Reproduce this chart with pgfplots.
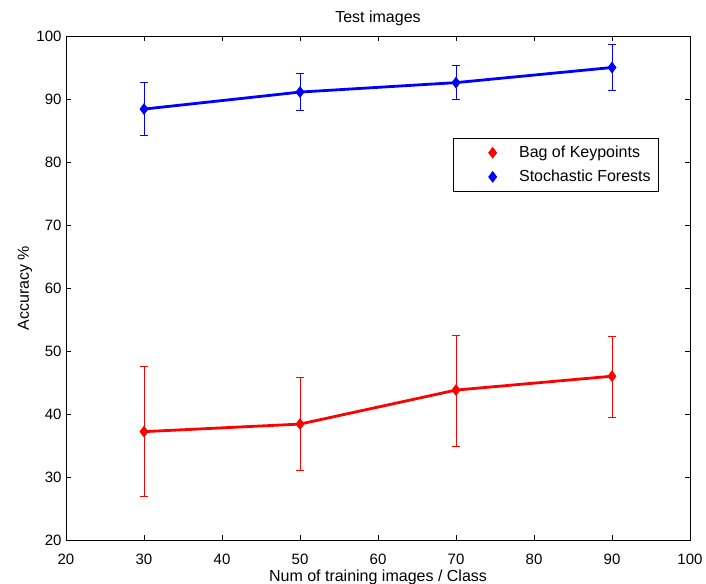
\documentclass[border=0pt]{standalone}
\usepackage{pgfplots}
\pgfplotsset{compat=1.18}
\usepackage{fontspec}
\setmainfont{Liberation Sans}
\begin{document}
\begin{tikzpicture}[x=1pt,y=1pt]
\useasboundingbox (-66,-43) rectangle (640,540);
\begin{axis}[
  at={(0,0)}, anchor=south west,
  scale only axis, width=624pt, height=504pt,
  xmin=20, xmax=100, ymin=20, ymax=100,
  xtick={20,30,...,100}, ytick={20,30,...,100},
  tick align=inside, major tick length=5pt,
  xtick pos=both, ytick pos=both,
  axis line style={line width=0.8pt},
  tick style={line width=0.8pt, black},
  /pgf/number format/assume math mode=true,
  ticklabel style={font=\fontsize{15}{17}\selectfont},
  xticklabel style={anchor=center, yshift=-19pt},
  yticklabel style={anchor=east, xshift=-1pt},
  title={Test images},
  title style={font=\fontsize{16}{18}\selectfont, at={(axis description cs:0.5,1.024)}, anchor=center},
  xlabel={Num of training images / Class},
  xlabel style={font=\fontsize{16}{18}\selectfont, at={(axis description cs:0.5,-0.0734)}, anchor=center},
  ylabel={Accuracy \%},
  ylabel style={font=\fontsize{16}{18}\selectfont, at={(axis description cs:-0.0657,0.5)}, anchor=center},
  legend style={at={(axis description cs:0.620,0.798)}, anchor=north west,
    draw=black, line width=0.8pt, inner xsep=6pt, inner ysep=6pt,
    font=\fontsize{16}{18}\selectfont, column sep=0pt, row sep=7pt,
    nodes={inner sep=2pt}},
  legend cell align=left,
  legend image code/.code={\path (-32pt,0pt) (23pt,0pt); \draw[#1,only marks] plot coordinates {(0pt,0pt)};},
]
\addplot[color=red, line width=2.8pt, mark=diamond*, mark size=5.5pt, mark options={solid, line width=0.5pt},
  error bars/.cd, y dir=both, y explicit,
  error bar style={line width=1pt, red},
  error mark options={rotate=90, mark size=4pt, line width=1pt, red}]
  coordinates {
  (30,37.2) += (0,10.3) -= (0,10.3)
  (50,38.4) += (0,7.4) -= (0,7.3)
  (70,43.8) += (0,8.7) -= (0,9.0)
  (90,46.0) += (0,6.3) -= (0,6.5)
};
\addlegendentry{Bag of Keypoints}
\addplot[color=blue, line width=2.8pt, mark=diamond*, mark size=5.5pt, mark options={solid, line width=0.5pt},
  error bars/.cd, y dir=both, y explicit,
  error bar style={line width=1pt, blue},
  error mark options={rotate=90, mark size=4pt, line width=1pt, blue}]
  coordinates {
  (30,88.4) += (0,4.2) -= (0,4.2)
  (50,91.1) += (0,3.0) -= (0,3.0)
  (70,92.6) += (0,2.7) -= (0,2.7)
  (90,95.0) += (0,3.7) -= (0,3.6)
};
\addlegendentry{Stochastic Forests}
\end{axis}
\end{tikzpicture}
\end{document}
